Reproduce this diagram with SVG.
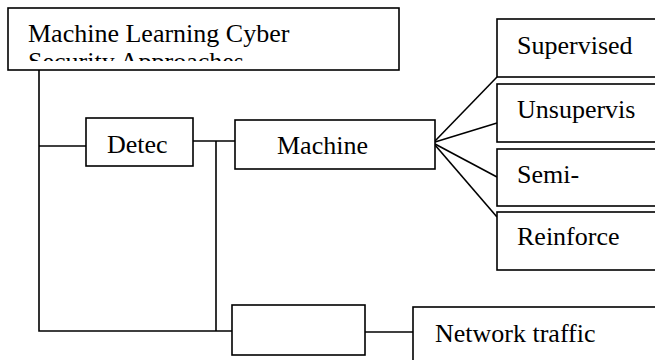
<svg xmlns="http://www.w3.org/2000/svg" width="655" height="360" viewBox="0 0 655 360">
<style>
.box{fill:#fff;stroke:#000;stroke-width:1.6}
.ln{fill:none;stroke:#000;stroke-width:1.6}
text{font-family:"Liberation Serif","Times New Roman",serif;font-size:26px;fill:#000}
</style>
<defs>
<clipPath id="clipTop"><rect x="8" y="8" width="392" height="53"/></clipPath>
</defs>
<rect x="0" y="0" width="655" height="360" fill="#fff"/>
<g id="connectors">
<polyline class="ln" points="39,70 39,331 232,331"/>
<line class="ln" x1="39" y1="146" x2="86" y2="146"/>
<line class="ln" x1="193" y1="141" x2="235" y2="141"/>
<line class="ln" x1="216" y1="141" x2="216" y2="331"/>
<line class="ln" x1="365" y1="332" x2="413" y2="332"/>
<line class="ln" x1="435" y1="141" x2="497" y2="77"/>
<line class="ln" x1="435" y1="142" x2="497" y2="123"/>
<line class="ln" x1="435" y1="144" x2="497" y2="177"/>
<line class="ln" x1="435" y1="145" x2="497" y2="217"/>
</g>
<g id="root">
<rect class="box" x="8" y="8" width="391" height="62"/>
<text x="28" y="42">Machine Learning Cyber</text>
<text x="28" y="70" clip-path="url(#clipTop)">Security Approaches</text>
</g>
<g id="detec">
<rect class="box" x="86" y="118" width="107" height="48"/>
<text x="107" y="153">Detec</text>
</g>
<g id="machine">
<rect class="box" x="235" y="120" width="200" height="49"/>
<text x="277" y="154">Machine</text>
</g>
<g id="supervised">
<rect class="box" x="497" y="19" width="200" height="58"/>
<text x="517" y="54">Supervised</text>
</g>
<g id="unsupervised">
<rect class="box" x="497" y="84" width="200" height="58"/>
<text x="517" y="118">Unsupervis</text>
</g>
<g id="semi">
<rect class="box" x="497" y="149" width="200" height="57"/>
<text x="517" y="183">Semi-</text>
</g>
<g id="reinforce">
<rect class="box" x="497" y="212" width="200" height="58"/>
<text x="517" y="245">Reinforce</text>
</g>
<g id="empty">
<rect class="box" x="232" y="305" width="133" height="50"/>
</g>
<g id="network">
<rect class="box" x="413" y="307" width="280" height="80"/>
<text x="435" y="342">Network traffic</text>
</g>
</svg>
